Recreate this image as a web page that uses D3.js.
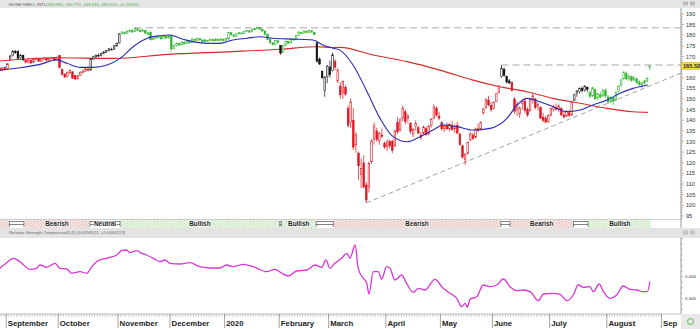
<!DOCTYPE html>
<html>
<head>
<meta charset="utf-8">
<script src="https://cdn.jsdelivr.net/npm/d3@7/dist/d3.min.js"></script>
<style>
body { margin: 0; background: #fff; }
svg { display: block; font-family: Arial, "Liberation Sans", sans-serif; }
</style>
</head>
<body>
<svg id="chart"></svg>
<script>
const width = 700;
const height = 329;
const plotRight = 681;

// daily candles [open, high, low, close], index 0 = 28 Aug 2019
const candles = [
[164.5,165.3,163.0,163.5],[163.6,165.0,163.2,164.6],[164.8,165.2,163.6,164.0],[164.3,167.0,164.0,166.6],
[168.5,170.8,168.3,170.2],[170.4,173.0,170.0,172.5],[172.4,173.1,171.2,171.8],[172.5,172.8,168.8,169.2],
[169.5,171.2,169.0,170.6],[170.5,171.0,168.0,168.4],[168.2,168.6,166.6,167.4],[167.2,168.8,166.8,168.3],
[168.2,168.6,166.5,167.0],[167.3,169.0,167.0,168.7],[168.6,169.6,168.0,169.2],[169.0,169.3,167.4,167.8],
[167.8,169.1,167.5,168.8],[168.8,169.8,168.2,169.4],[169.2,169.5,167.8,168.2],[168.3,169.3,167.9,169.0],
[169.0,169.8,168.5,169.5],[169.5,169.7,168.0,168.4],[168.5,170.0,168.3,169.7],[170.4,170.8,164.4,164.8],
[164.0,164.3,161.0,161.6],[161.8,162.0,159.8,160.4],[160.5,162.9,160.2,162.6],[162.3,164.0,161.8,163.5],
[162.8,163.0,159.5,159.8],[161.0,161.3,159.0,159.4],[159.5,161.2,159.2,160.9],[161.2,163.0,161.0,162.6],
[162.4,163.6,162.0,163.2],[163.0,164.6,162.8,164.2],[164.0,165.2,163.2,163.6],[163.6,169.3,163.4,168.8],
[168.8,170.4,168.3,169.9],[169.8,171.0,169.4,170.6],[170.5,171.4,169.8,170.2],[170.4,171.8,170.0,171.5],
[171.5,172.6,171.0,172.2],[172.0,173.0,171.6,172.8],[172.8,174.0,172.4,173.6],[173.4,174.2,172.8,173.2],
[173.5,175.4,173.2,175.0],[175.0,176.5,174.6,176.2],[176.4,181.0,176.2,180.6],[180.8,182.0,180.2,181.5],
[181.4,181.8,180.4,180.8],[180.9,182.3,180.6,181.9],[181.8,182.8,181.3,182.4],[182.3,182.6,181.2,181.5],
[181.7,183.6,181.5,183.2],[183.0,183.4,182.0,182.4],[182.4,182.7,181.4,181.8],[181.9,182.9,181.6,182.5],
[182.3,182.6,180.7,181.0],[181.0,181.6,180.0,180.6],[181.4,181.8,177.5,177.9],[178.0,179.0,177.6,178.6],
[178.6,179.4,178.2,179.0],[179.0,179.7,178.5,179.3],[179.2,179.5,178.0,178.3],[178.4,179.9,178.2,179.6],
[179.5,179.8,178.4,178.7],[178.8,180.0,178.6,179.7],[179.8,180.1,172.4,173.6],[173.8,175.4,173.4,175.1],
[175.2,176.6,174.8,176.3],[176.2,176.5,175.0,175.4],[175.5,177.1,175.2,176.8],[176.8,177.0,175.6,176.0],
[176.1,177.6,175.9,177.3],[177.2,177.5,176.1,176.4],[176.5,178.5,176.3,178.2],[178.1,178.4,177.3,177.6],
[177.7,178.8,177.4,178.5],[178.4,178.7,177.5,177.8],[177.8,178.0,176.6,176.9],[177.8,178.1,176.8,177.1],
[177.0,177.8,176.8,177.5],[177.5,178.4,177.2,178.1],[178.0,178.2,177.1,177.4],[177.4,178.5,177.2,178.2],
[178.1,178.4,177.3,177.6],[177.6,178.6,177.4,178.3],[178.2,178.4,177.2,177.5],[177.5,178.7,177.3,178.4],
[178.2,181.6,178.0,181.3],[181.2,181.4,179.9,180.2],[180.1,180.4,179.2,179.5],[179.6,180.9,179.4,180.7],
[180.7,181.5,180.3,181.2],[181.1,181.3,180.4,180.7],[180.8,182.0,180.6,181.8],[181.8,182.5,181.5,182.2],
[182.1,182.3,181.2,181.5],[181.6,182.9,181.4,182.7],[182.6,183.3,182.3,183.1],[183.1,184.0,182.8,183.7],
[183.6,183.8,182.6,182.9],[182.8,183.1,181.7,182.0],[182.0,182.2,180.2,180.5],[180.5,180.7,177.7,178.0],
[178.2,178.5,176.0,176.5],[176.4,176.8,175.2,175.6],[175.8,177.8,175.5,177.5],[177.4,177.7,176.2,176.5],
[175.2,175.4,170.8,171.6],[172.0,175.6,171.8,175.3],[175.4,177.4,175.1,177.1],[177.0,177.3,175.9,176.3],
[176.4,178.5,176.2,178.2],[178.1,178.4,177.4,177.8],[177.9,180.1,177.7,179.8],[179.8,181.8,179.5,181.5],
[181.4,181.6,180.6,180.9],[181.0,182.3,180.8,182.0],[181.9,182.2,181.0,181.3],[181.3,182.5,181.1,182.2],
[182.1,182.3,181.2,181.5],[181.3,181.5,180.0,180.3],[176.4,176.7,167.2,167.8],[168.8,169.6,166.0,166.5],
[163.0,163.5,159.6,160.0],[154.0,160.8,151.0,160.3],[160.5,166.0,157.5,165.5],[165.0,168.0,160.0,161.5],
[163.5,171.8,163.0,170.8],[167.6,168.8,163.5,165.0],[158.5,164.6,157.5,163.5],[156.0,158.0,150.3,152.0],
[153.0,158.8,150.0,158.3],[155.5,156.5,151.5,152.3],[145.5,147.0,136.5,137.5],[139.0,150.4,136.3,148.6],
[140.0,145.8,126.0,127.4],[128.5,134.6,124.6,133.1],[124.5,125.3,112.0,118.6],[114.5,122.0,108.0,117.3],
[120.0,123.6,108.0,108.7],[109.5,111.0,101.1,102.5],[108.5,120.5,106.0,119.7],[120.5,131.0,119.5,130.2],
[131.0,139.0,128.5,137.4],[135.0,136.5,130.0,131.0],[130.5,134.5,128.5,133.8],[133.0,136.2,131.5,132.5],
[129.0,130.0,126.5,127.5],[127.5,131.0,125.5,129.8],[130.0,131.0,126.8,128.0],[130.0,131.0,124.5,125.8],
[128.0,135.5,127.5,135.0],[139.0,141.5,133.5,134.6],[135.5,141.0,134.5,140.2],[141.0,147.0,139.5,145.5],
[144.0,145.0,138.0,139.5],[141.0,143.0,138.5,141.8],[138.5,139.0,133.5,134.8],[133.5,136.5,132.0,135.6],
[137.0,140.0,135.0,138.5],[136.5,137.5,133.5,134.0],[133.0,134.5,130.8,132.0],[134.0,137.5,133.0,136.8],
[136.0,137.0,132.5,133.4],[133.5,137.8,133.0,137.0],[137.5,141.0,136.5,140.3],[141.0,147.5,140.5,146.2],
[145.5,146.5,141.5,142.5],[142.0,144.0,140.0,141.0],[139.0,139.5,135.0,136.0],[136.0,138.0,134.5,137.2],
[137.5,139.0,135.5,136.0],[136.0,138.5,134.8,138.0],[137.5,139.5,135.0,135.6],[136.0,138.0,134.0,137.2],
[137.5,139.2,133.5,134.0],[133.5,134.0,128.0,128.6],[128.0,128.5,122.0,122.6],[121.5,124.5,119.0,124.0],
[124.5,130.0,123.8,129.5],[131.0,134.5,130.0,133.5],[133.0,134.0,130.5,131.5],[132.0,136.5,131.5,135.8],
[136.0,138.5,134.5,135.3],[136.0,139.5,135.5,139.0],[143.5,146.0,142.5,145.2],[146.0,150.5,145.2,149.6],
[149.5,151.5,146.5,147.3],[147.0,148.5,144.0,145.0],[145.5,149.0,145.0,148.4],[149.0,153.0,148.5,152.4],
[153.0,156.6,152.5,156.1],[160.5,166.0,160.0,164.5],[164.0,164.8,160.5,161.2],[160.5,161.0,157.2,158.0],
[158.5,159.5,157.0,157.6],[157.8,158.2,153.5,154.0],[150.0,151.0,143.0,144.2],[145.0,148.8,142.0,147.5],
[143.0,146.5,141.0,145.8],[148.0,150.0,145.0,148.8],[149.0,150.5,143.5,144.5],[145.0,146.0,141.5,142.5],
[144.5,150.5,144.0,150.0],[149.5,152.4,147.8,151.5],[150.0,150.5,145.0,146.0],[146.5,148.5,144.5,147.4],
[146.0,146.5,140.5,141.0],[141.5,143.5,139.0,140.0],[141.0,142.0,138.5,139.2],[139.5,142.8,138.7,142.3],
[142.5,146.0,142.0,145.5],[145.0,147.3,144.0,146.5],[146.0,148.0,144.5,145.2],[145.3,147.5,143.8,146.8],
[145.5,146.0,142.0,142.6],[142.5,143.8,140.8,141.5],[142.0,144.8,141.5,144.2],[143.5,145.0,141.5,142.4],
[142.4,149.0,142.0,148.5],[149.5,152.5,149.0,152.0],[152.5,154.2,151.0,153.8],[153.5,155.5,152.5,155.0],
[155.0,156.0,153.0,154.0],[154.0,156.6,153.5,155.8],[155.5,156.0,153.2,154.6],[153.0,154.0,150.5,151.2],
[151.5,155.8,151.0,155.3],[154.5,155.0,149.5,150.2],[150.5,153.0,149.5,152.4],[152.0,153.5,150.0,151.0],
[151.5,154.8,151.0,154.2],[154.0,155.0,150.5,151.5],[151.0,152.0,147.6,148.6],[149.0,151.5,148.0,150.8],
[150.5,151.0,147.2,149.2],[149.5,153.5,149.0,153.0],[153.5,156.5,153.0,156.0],[156.5,159.5,156.0,159.0],
[159.5,163.3,159.0,162.5],[162.0,163.0,158.8,159.5],[159.5,161.5,158.5,160.8],[160.5,161.0,158.0,158.8],
[159.0,160.6,158.2,160.0],[159.5,160.0,157.0,157.8],[158.0,158.8,156.0,156.8],[156.5,158.0,155.0,157.4],
[157.5,159.0,156.8,158.6],[158.5,160.2,157.8,159.8],[164.96,165.77,163.53,165.52]
];

// trend state segments: first index of each segment
const stateStart = [0, 4, 10, 35, 47, 108, 109, 122, 129, 193, 197, 221, 227];
const stateName = ["Bearish","Neutral","Bearish","Neutral","Bullish","Neutral","Bullish","Neutral","Bearish","Neutral","Bearish","Neutral","Bullish"];

// moving averages [day index, price]
const maFast = [[0,163.6],[7.8,164.7],[15.5,166.3],[22,168.4],[25.9,166.8],[30.9,164.9],[35.9,164.9],[41.3,166],
  [46.3,169.1],[51.3,174.6],[56.7,178.6],[61.7,179.8],[65.5,180.1],[69.3,178.6],[74.3,177],[79.7,176.2],
  [84.7,176.2],[89.7,177.8],[95.1,178.6],[100.1,179.3],[105.1,178.6],[112.8,178.2],[120.5,177.8],[124.3,175.4],
  [128.2,173.9],[130.9,173],[135.9,166],[141.3,153.4],[146.3,140.9],[151.3,132.3],[156.7,129.9],[161.7,132.3],
  [166.7,135.4],[170.5,137.8],[175.9,137],[182,135.4],[188.6,136.2],[195.1,140.9],[199,147.2],[202.8,150.3],
  [207.8,148.7],[212.8,146.4],[218.2,144],[223.2,144.8],[228.2,147.2],[233.6,149.5],[238.6,152.7],[243.6,155],[249.3,156.6]];
const maSlow = [[0,167.9],[22,169.4],[43.6,169.1],[64.7,171],[89.7,172.3],[107.8,173.4],[122,174.6],[128.2,174.2],
  [130.9,174.3],[143.6,170.7],[156.7,167.6],[169.3,163.6],[182,158.9],[192.4,155.8],[202.8,153.4],[212.8,150.3],
  [223.2,148],[233.6,145.6],[243.6,144],[249.3,143.7]];

// relative strength vs DJI [day index, value]
const rsIdx = [0,2.7,5.2,7.8,11.7,14.2,15.5,18.1,21.3,23.2,25.8,27.7,30.9,33.5,35.4,37.3,39.9,42.4,45,46.9,48.8,50.1,
  52.7,54.6,56.5,59.1,61.7,63.6,65.5,69.3,73.2,77,80.9,84.7,87.3,89.8,93.7,97.5,102.7,105.9,108.5,111,114.2,118.1,
  121.3,123.8,125.5,127,128.9,131.5,133.5,134.7,136.7,137.9,139.9,141.2,142,143.7,145.6,146.9,148.8,150.1,152,154.6,
  156.5,159.1,161,163.6,167.4,170.6,173.2,175.8,177.7,179,179.8,180.9,183.5,186,188.6,191.2,193.7,196.3,198.8,201.4,
  204,207.2,209.1,212.9,215.5,218.1,220.6,222.5,224.5,227,228.3,230.6,232.2,234.7,237.3,239.8,242.4,245,247.5,249.1,250.1];
const rsVal = [0.006382,0.006636,0.006836,0.006682,0.006336,0.006382,0.006532,0.006427,0.006609,0.006382,0.00635,0.006155,
  0.006227,0.006155,0.006455,0.006682,0.006805,0.006882,0.006986,0.007182,0.007214,0.007091,0.007182,0.007064,0.006986,
  0.006836,0.006682,0.006759,0.006609,0.006577,0.006636,0.006455,0.006395,0.006395,0.006532,0.006455,0.006564,0.006455,
  0.006227,0.006336,0.006155,0.006032,0.006259,0.006305,0.006532,0.006427,0.006759,0.006382,0.006609,0.006836,0.007064,
  0.006836,0.007441,0.006382,0.005927,0.0057,0.005214,0.006227,0.006227,0.005882,0.006455,0.006382,0.00585,0.006077,
  0.0057,0.005291,0.005473,0.005395,0.005882,0.005473,0.005245,0.005018,0.004636,0.004791,0.004609,0.004973,0.005091,
  0.005623,0.005545,0.005623,0.005895,0.005545,0.005364,0.005395,0.005318,0.004909,0.005214,0.005245,0.0052,0.004909,
  0.005168,0.005623,0.005518,0.005545,0.005318,0.005668,0.005318,0.005018,0.005168,0.005577,0.005427,0.005395,0.005318,
  0.005318,0.005773];

const monthLabels = ["September","October","November","December","2020","February","March","April","May","June","July","August","Sep"];
const monthStart = [3, 23, 46, 66, 87, 108, 127, 149, 170, 190, 212, 234, 255];

const resistance = [[52, 183.5], [193, 166.0]];
const trendFrom = [141, 101.1];
const trendTo = [262, 162.2];
const lastPrice = 165.52;
const priceTicks = d3.range(95, 191, 5);
const rsTicks = [0.005, 0.006];

const stateColor = { Bearish: "#e0141e", Bullish: "#2fb52f", Neutral: "#111" };

const svg = d3.select("#chart").attr("width", width).attr("height", height);

const x = d3.scaleLinear().domain([0, 255]).range([-0.3, 662.7]);
const y = d3.scaleLinear().domain([95, 190]).range([215.9, 14]);
const yRS = d3.scaleLinear().domain([0.005, 0.006]).range([298.7, 276.7]);

function stateOf(i) {
    let k = 0;
    for (let s = 0; s < stateStart.length; s++) if (i >= stateStart[s]) k = s;
    return stateName[k];
}

// patterns for trend band
const defs = svg.append("defs");
function hatch(id, bg, fg) {
    const p = defs.append("pattern").attr("id", id).attr("patternUnits", "userSpaceOnUse")
        .attr("width", 3).attr("height", 3);
    p.append("rect").attr("width", 3).attr("height", 3).attr("fill", bg);
    p.append("path").attr("d", "M-1,-1 L4,4 M-1,2 L1,4 M2,-1 L4,1").attr("stroke", fg).attr("stroke-width", 0.7);
}
hatch("hBear", "#f9eaea", "#e2a2a2");
hatch("hBull", "#edf8ea", "#a9dba0");
defs.append("clipPath").attr("id", "pclip").append("rect")
    .attr("x", 0).attr("y", 8).attr("width", plotRight).attr("height", 211);
defs.append("clipPath").attr("id", "rclip").append("rect")
    .attr("x", 0).attr("y", 238).attr("width", plotRight).attr("height", 76);

// header bar
svg.append("rect").attr("x", 0).attr("y", 0).attr("width", width).attr("height", 8).attr("fill", "#e6e6e6");
svg.append("text").attr("x", 9).attr("y", 5.6).attr("font-size", 4.3).attr("fill", "#555").text("HONEYWELL INTL");
svg.append("text").attr("x", 46).attr("y", 5.6).attr("font-size", 4.3).attr("fill", "#3aa83a")
    .text("(164.960, 165.770, 163.530, 165.520, +0.15001)");
svg.append("rect").attr("x", 683).attr("y", 1.5).attr("width", 5).attr("height", 4).attr("fill", "#bbb");
svg.append("rect").attr("x", 690).attr("y", 1.5).attr("width", 5).attr("height", 4).attr("fill", "#bbb");

// price panel
const pg = svg.append("g").attr("clip-path", "url(#pclip)");

pg.selectAll("line.res").data(resistance).enter().append("line")
    .attr("x1", d => x(d[0])).attr("x2", plotRight)
    .attr("y1", d => y(d[1])).attr("y2", d => y(d[1]))
    .attr("stroke", "#a8a8a8").attr("stroke-width", 1).attr("stroke-dasharray", "7,4");

pg.append("line")
    .attr("x1", x(trendFrom[0])).attr("y1", y(trendFrom[1]))
    .attr("x2", x(trendTo[0])).attr("y2", y(trendTo[1]))
    .attr("stroke", "#8c8c8c").attr("stroke-width", 0.8).attr("stroke-dasharray", "5,3");

const maLine = d3.line().x(d => x(d[0])).y(d => y(d[1])).curve(d3.curveMonotoneX);
pg.append("path").attr("d", maLine(maSlow)).attr("fill", "none").attr("stroke", "#d42a2a").attr("stroke-width", 1.1);

const cg = pg.selectAll("g.c").data(candles).enter().append("g");
cg.append("line")
    .attr("x1", (d, i) => x(i)).attr("x2", (d, i) => x(i))
    .attr("y1", d => y(d[1])).attr("y2", d => y(d[2]))
    .attr("stroke", (d, i) => stateColor[stateOf(i)]).attr("stroke-width", 0.7);
cg.append("rect")
    .attr("x", (d, i) => x(i) - 0.8)
    .attr("width", 1.6)
    .attr("y", d => y(Math.max(d[0], d[3])))
    .attr("height", d => Math.max(0.6, Math.abs(y(d[0]) - y(d[3]))))
    .attr("fill", (d, i) => d[3] >= d[0] ? "#fff" : stateColor[stateOf(i)])
    .attr("stroke", (d, i) => stateColor[stateOf(i)]).attr("stroke-width", 0.6);

pg.append("path").attr("d", maLine(maFast)).attr("fill", "none").attr("stroke", "#2a2ab8").attr("stroke-width", 1.1);

// right price axis
const ax = svg.append("g");
ax.append("line").attr("x1", plotRight).attr("x2", plotRight).attr("y1", 8).attr("y2", 219).attr("stroke", "#999");
ax.selectAll("line.m").data(d3.range(94, 191)).enter().append("line")
    .attr("x1", plotRight).attr("x2", d => plotRight + (d % 5 === 0 ? 3 : 1.6))
    .attr("y1", d => y(d)).attr("y2", d => y(d)).attr("stroke", "#777").attr("stroke-width", 0.5);
ax.selectAll("text.p").data(priceTicks.filter(d => Math.abs(y(d) - y(lastPrice)) > 6)).enter().append("text")
    .attr("x", 686).attr("y", d => y(d) + 2).attr("font-size", 5.6).attr("fill", "#333").text(d => d);
ax.append("rect").attr("x", 681.5).attr("y", y(lastPrice) - 3.6).attr("width", 18).attr("height", 7.2)
    .attr("fill", "#f2e03a").attr("stroke", "#b9a400").attr("stroke-width", 0.4);
ax.append("text").attr("x", 683).attr("y", y(lastPrice) + 2).attr("font-size", 5.6).attr("font-weight", "bold")
    .attr("fill", "#222").text(lastPrice.toFixed(2));

// trend band
const segs = stateStart.map((s, k) => ({
    name: stateName[k],
    x0: x(s) - 1.3,
    x1: x((k + 1 < stateStart.length ? stateStart[k + 1] : candles.length)) - 1.3
}));
segs[0].x0 = 0;
const band = svg.append("g");
band.append("line").attr("x1", 0).attr("x2", plotRight).attr("y1", 219.5).attr("y2", 219.5).attr("stroke", "#aaa").attr("stroke-width", 0.6);
band.selectAll("rect.s").data(segs).enter().append("rect")
    .attr("x", d => d.x0).attr("width", d => d.x1 - d.x0)
    .attr("y", 220).attr("height", 8)
    .attr("fill", d => d.name === "Bearish" ? "url(#hBear)" : d.name === "Bullish" ? "url(#hBull)" : "#fff");
segs.filter(d => d.name === "Neutral").forEach(d => {
    const g = band.append("g").attr("stroke", "#333").attr("stroke-width", 0.6).attr("fill", "none");
    g.append("line").attr("x1", d.x0 + 0.5).attr("x2", d.x0 + 0.5).attr("y1", 221).attr("y2", 227);
    g.append("line").attr("x1", d.x1 - 0.5).attr("x2", d.x1 - 0.5).attr("y1", 221).attr("y2", 227);
    g.append("line").attr("x1", d.x0 + 0.5).attr("x2", d.x1 - 0.5).attr("y1", 221.5).attr("y2", 221.5);
    g.append("line").attr("x1", d.x0 + 0.5).attr("x2", d.x1 - 0.5).attr("y1", 224.5).attr("y2", 224.5);
});
band.selectAll("text.s").data(segs.filter(d => d.x1 - d.x0 > 30)).enter().append("text")
    .attr("x", d => (d.x0 + d.x1) / 2).attr("y", 226.4)
    .attr("text-anchor", "middle").attr("font-size", 6.4).attr("font-weight", "bold").attr("fill", "#222")
    .attr("stroke", "#fff").attr("stroke-width", 1.2).attr("paint-order", "stroke")
    .text(d => d.name);
band.append("line").attr("x1", plotRight).attr("x2", plotRight).attr("y1", 219).attr("y2", 228).attr("stroke", "#999");

// RS header
svg.append("rect").attr("x", 0).attr("y", 228).attr("width", width).attr("height", 10).attr("fill", "#e3e3e3");
svg.append("text").attr("x", 9).attr("y", 234.3).attr("font-size", 4.3).attr("fill", "#666")
    .text("Relative Strength Comparison(DJI) (0.0058521, +0.0000223)");
svg.append("rect").attr("x", 683).attr("y", 230.5).attr("width", 5).attr("height", 4).attr("fill", "#c4c4c4");
svg.append("rect").attr("x", 690).attr("y", 230.5).attr("width", 5).attr("height", 4).attr("fill", "#c4c4c4");

// RS panel
const rsLine = d3.line().x(d => x(d[0])).y(d => yRS(d[1])).curve(d3.curveMonotoneX);
svg.append("g").attr("clip-path", "url(#rclip)").append("path")
    .attr("d", rsLine(rsIdx.map((v, k) => [v, rsVal[k]])))
    .attr("fill", "none").attr("stroke", "#d935d9").attr("stroke-width", 1.3);
const rax = svg.append("g");
rax.append("line").attr("x1", plotRight).attr("x2", plotRight).attr("y1", 238).attr("y2", 314).attr("stroke", "#999");
rax.selectAll("line.t").data(d3.range(0.0045, 0.0078, 0.00025)).enter().append("line")
    .attr("x1", plotRight).attr("x2", plotRight + 1.8)
    .attr("y1", d => yRS(d)).attr("y2", d => yRS(d)).attr("stroke", "#777").attr("stroke-width", 0.5);
rax.selectAll("text.r").data(rsTicks).enter().append("text")
    .attr("x", 685).attr("y", d => yRS(d) + 1.6).attr("font-size", 4.4).attr("fill", "#333")
    .text(d => d.toFixed(3));

// time axis
const tax = svg.append("g");
tax.append("line").attr("x1", 0).attr("x2", plotRight).attr("y1", 314).attr("y2", 314).attr("stroke", "#999").attr("stroke-width", 0.6);
tax.selectAll("line.d").data(d3.range(0, 256)).enter().append("line")
    .attr("x1", d => x(d) - 1.3).attr("x2", d => x(d) - 1.3)
    .attr("y1", 314).attr("y2", 316.6).attr("stroke", "#888").attr("stroke-width", 0.45);
tax.selectAll("line.mo").data(monthStart).enter().append("line")
    .attr("x1", d => x(d) - 1.3).attr("x2", d => x(d) - 1.3)
    .attr("y1", 314).attr("y2", 328).attr("stroke", "#666").attr("stroke-width", 0.6);
tax.selectAll("text.mo").data(monthLabels).enter().append("text")
    .attr("x", (d, k) => x(monthStart[k]) + 0.3).attr("y", 326)
    .attr("font-size", 7.8).attr("font-weight", "bold").attr("fill", "#222")
    .text(d => d);
svg.append("rect").attr("x", plotRight).attr("y", 314).attr("width", 19).attr("height", 15).attr("fill", "#e9e9e9");
svg.append("circle").attr("cx", 690.5).attr("cy", 321.5).attr("r", 3).attr("fill", "none").attr("stroke", "#4fbf4f").attr("stroke-width", 1);
</script>
</body>
</html>
